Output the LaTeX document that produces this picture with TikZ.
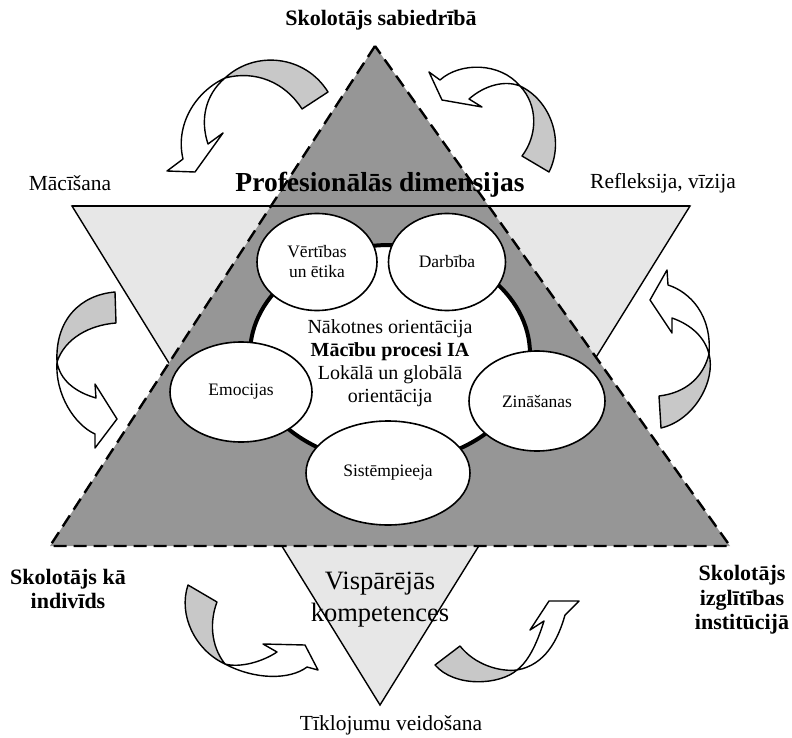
\documentclass[tikz,border=0pt]{standalone}
\usepackage{fontspec}
\setmainfont{Liberation Serif}
\usetikzlibrary{shapes.geometric}
\definecolor{darkgray}{RGB}{150,150,150}
\definecolor{lightgray}{RGB}{231,231,231}
\definecolor{bandgray}{RGB}{200,200,200}

\begin{document}
\begin{tikzpicture}[x=1pt,y=-1pt,
 oval/.style={ellipse,draw=black,line width=1.6pt,fill=white,inner sep=0pt,align=center,font=\fontsize{17.5}{20}\selectfont},
 hub/.style={ellipse,draw=black,line width=4pt,fill=white,inner sep=0pt},
 backface/.style={draw=black,line width=1.4pt,fill=bandgray,line join=round},
 frontface/.style={draw=black,line width=1.4pt,fill=white,line join=round},
 lbl/.style={align=center,font=\fontsize{21.5}{24}\selectfont},
 heading/.style={align=center,font=\bfseries\fontsize{22}{24.5}\selectfont}]
\useasboundingbox (0,0) rectangle (792,738);

% triangles
\coordinate (lA) at (72,206);
\coordinate (lB) at (690,206);
\coordinate (lC) at (380,705);
\coordinate (dA) at (375,46);
\coordinate (dB) at (50,546);
\coordinate (dC) at (730,546);
\draw[fill=lightgray,line width=1.4pt,line join=miter] (lA) -- (lB) -- (lC) -- cycle;
\draw[fill=darkgray,line width=2.4pt,dash pattern=on 13pt off 7pt] (dA) -- (dB) -- (dC) -- cycle;
\draw[line width=1.4pt] (lA) -- (lB);

% ring of dimensions
\node[hub,minimum width=280pt,minimum height=218pt] (core) at (390,354) {};
\node[align=center,font=\fontsize{20}{23}\selectfont] (focus) at (390,363) {N\={a}kotnes orient\={a}cija\\\textbf{M\={a}c\={\i}bu procesi IA}\\Lok\={a}l\={a} un glob\={a}l\={a}\\orient\={a}cija};
\node[oval,minimum width=120pt,minimum height=97pt] (values) at (317,262) {V\={e}rt\={\i}bas\\un \={e}tika};
\node[oval,minimum width=117pt,minimum height=97pt] (action) at (447,262) {Darb\={\i}ba};
\node[oval,minimum width=142pt,minimum height=100pt] (emotions) at (241,392) {Emocijas};
\node[oval,minimum width=136pt,minimum height=100pt] (knowledge) at (537,401) {Zin\={a}\v{s}anas};
\node[oval,minimum width=164pt,minimum height=104pt] (systems) at (388,473) {Sist\={e}mpieeja};

% curved arrows
\draw[backface] (225,78) .. controls (255,50) and (305,55) .. (328,92) -- (302,109) .. controls (285,82) and (255,70) .. (225,78) -- cycle;
\draw[frontface] (225,78) .. controls (195,92) and (175,125) .. (183,159) -- (167,171) -- (195,172) -- (223,133) -- (208,144) .. controls (200,120) and (205,95) .. (225,78) -- cycle;
\draw[backface] (520,86) .. controls (550,100) and (565,140) .. (549,172) -- (522,156) .. controls (538,135) and (538,105) .. (520,86) -- cycle;
\draw[frontface] (520,86) .. controls (500,62) and (460,62) .. (440,80) -- (429,72) -- (442,100) -- (482,107) -- (469,99) .. controls (485,85) and (505,80) .. (520,86) -- cycle;
\draw[backface] (709,354) .. controls (716,380) and (695,420) .. (661,428) -- (659,396) .. controls (685,393) and (703,378) .. (709,354) -- cycle;
\draw[frontface] (709,354) .. controls (712,315) and (690,292) .. (668,285) -- (667,270) -- (650,300) -- (672,333) -- (672,318) .. controls (692,325) and (705,338) .. (709,354) -- cycle;
\draw[backface] (57,362) .. controls (55,320) and (80,295) .. (115,292) -- (116,323) .. controls (90,325) and (65,338) .. (57,362) -- cycle;
\draw[frontface] (57,362) .. controls (55,395) and (75,425) .. (95,434) -- (95,448) -- (117,419) -- (95,384) -- (96,398) .. controls (75,392) and (60,380) .. (57,362) -- cycle;
\draw[backface] (188,585) .. controls (178,615) and (195,650) .. (225,664) .. controls (210,645) and (210,620) .. (217,602) -- cycle;
\draw[frontface] (225,664) .. controls (240,668) and (262,662) .. (277,652) -- (263,644) -- (305,645) -- (318,670) -- (307,667) .. controls (290,680) and (255,680) .. (225,664) -- cycle;
\draw[backface] (517,670) .. controls (500,685) and (455,688) .. (435,665) -- (460,646) .. controls (475,665) and (500,672) .. (517,670) -- cycle;
\draw[frontface] (517,670) .. controls (530,660) and (538,640) .. (544,621) -- (530,630) -- (549,601) -- (579,601) -- (565,615) .. controls (558,640) and (545,665) .. (517,670) -- cycle;

% labels
\node[heading] (society) at (381,20) {Skolot\={a}js sabiedr\={\i}b\={a}};
\node[align=center,font=\bfseries\fontsize{27.5}{30}\selectfont] (dimensions) at (380,185) {Profesion\={a}l\={a}s dimensijas};
\node[lbl] (teaching) at (70,183) {M\={a}c\={\i}\v{s}ana};
\node[lbl] (reflection) at (663,183) {Refleksija, v\={\i}zija};
\node[heading] (individual) at (68,589) {Skolot\={a}js k\={a}\\indiv\={\i}ds};
\node[heading] (institution) at (742,600) {Skolot\={a}js\\izgl\={\i}t\={\i}bas\\instit\={u}cij\={a}};
\node[align=center,font=\fontsize{26.5}{32}\selectfont] (general) at (380,600) {Visp\={a}r\={e}j\={a}s\\kompetences};
\node[lbl] (network) at (391,725) {T\={\i}klojumu veido\v{s}ana};
\end{tikzpicture}
\end{document}
